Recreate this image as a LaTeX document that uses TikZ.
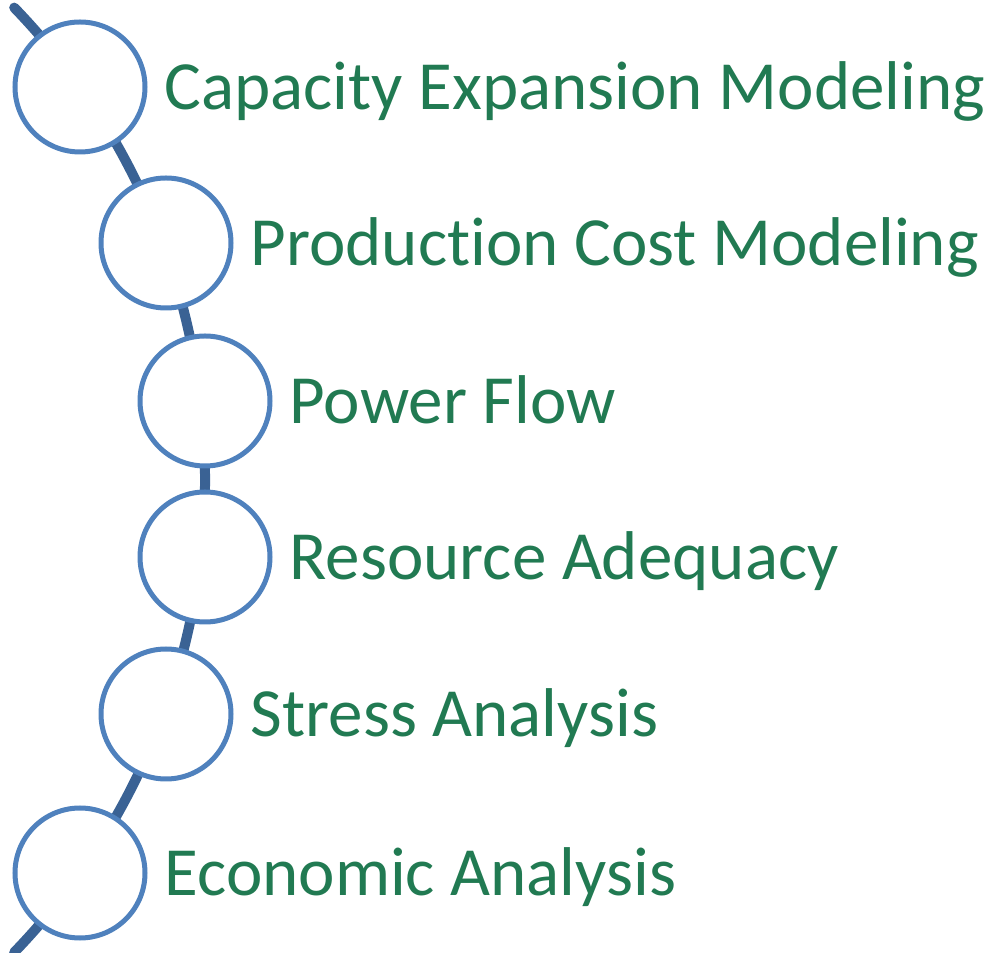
\documentclass[tikz,border=0pt]{standalone}
\usepackage{fontspec}
\setmainfont[Ligatures=NoCommon]{Carlito}
\usetikzlibrary{positioning}
\definecolor{ringblue}{RGB}{79,129,189}
\definecolor{spineblue}{RGB}{58,98,148}
\definecolor{labelgreen}{RGB}{33,122,82}
\tikzset{
	ring/.style={circle, draw=ringblue, line width=5pt, fill=white, minimum size=130pt, inner sep=0pt},
	stage/.style={anchor=base west, text=labelgreen, font=\fontsize{69}{83}\selectfont, inner sep=0pt},
	spine/.style={line width=10pt, color=spineblue, line cap=round}
}

\begin{document}
\begin{tikzpicture}[x=1pt, y=1pt]
			%%%%% START %%%%%
			
			\useasboundingbox (0, 0) rectangle (996, 953);
			
			\coordinate (top) at (14.2, 945.4);
			\draw[spine] (top) arc (44:-44:680) coordinate (bottom);
			
			\node[ring] (c1) at (80, 866) {};
			\node[ring] (c2) at (166, 710) {};
			\node[ring] (c3) at (205, 552) {};
			\node[ring] (c4) at (205, 396) {};
			\node[ring] (c5) at (166, 239) {};
			\node[ring] (c6) at (80, 80) {};
			
			\node[stage] (l1) at ([xshift=17pt, yshift=-23pt]c1.east) {Capacity Expansion Modeling};
			\node[stage] (l2) at ([xshift=17pt, yshift=-23pt]c2.east) {Production Cost Modeling};
			\node[stage] (l3) at ([xshift=17pt, yshift=-23pt]c3.east) {Power Flow};
			\node[stage] (l4) at ([xshift=17pt, yshift=-23pt]c4.east) {Resource Adequacy};
			\node[stage] (l5) at ([xshift=17pt, yshift=-23pt]c5.east) {Stress Analysis};
			\node[stage] (l6) at ([xshift=17pt, yshift=-23pt]c6.east) {Economic Analysis};
			
			%%%%% END %%%%%
\end{tikzpicture}
\end{document}
